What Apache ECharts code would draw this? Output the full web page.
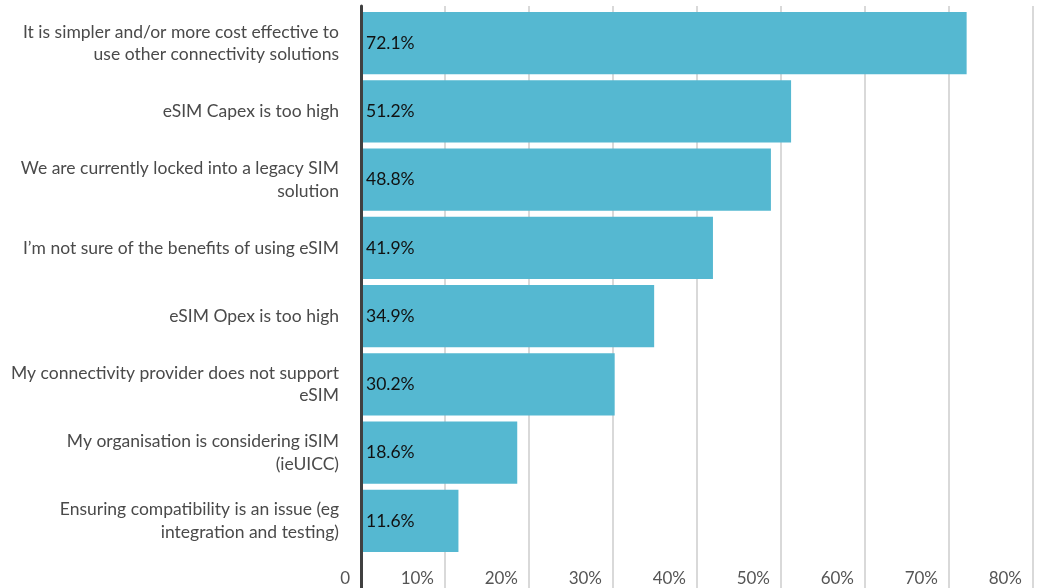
<!DOCTYPE html>
<html><head><meta charset="utf-8">
<script src="https://cdn.jsdelivr.net/npm/echarts@6/dist/echarts.min.js"></script>
<style>html,body{margin:0;padding:0;background:#fff}#c{width:1039px;height:588px}</style>
</head><body><div id="c"></div>
<script>
const categories = [
  "It is simpler and/or more cost effective to\nuse other connectivity solutions",
  "eSIM Capex is too high",
  "We are currently locked into a legacy SIM\nsolution",
  "I\u2019m not sure of the benefits of using eSIM",
  "eSIM Opex is too high",
  "My connectivity provider does not support\neSIM",
  "My organisation is considering iSIM\n(ieUICC)",
  "Ensuring compatibility is an issue (eg\nintegration and testing)"
];
const values = [72.1, 51.2, 48.8, 41.9, 34.9, 30.2, 18.6, 11.6];
const axisMax = 80;
const axisStep = 10;

const font = 'Lato, "Noto Sans", sans-serif';
const chart = echarts.init(document.getElementById('c'));
chart.setOption({
  animation: false,
  textStyle: {fontFamily: font},
  grid: [
    {left: 361, right: 6, top: 6, bottom: 0},
    {left: 361, right: 6, top: 9, height: 546}
  ],
  xAxis: [
    {gridIndex: 0, type: 'value', min: 0, max: axisMax, interval: axisStep,
     axisLine: {show: false}, axisTick: {show: false},
     splitLine: {show: true, lineStyle: {color: '#d9d9d9', width: 2}},
     axisLabel: {inside: true, margin: 1, align: 'right', padding: [0, 11, 0, 0],
       color: '#555', fontSize: 17, fontFamily: font,
       formatter: v => v === 0 ? '0' : v + '%'}},
    {gridIndex: 1, type: 'value', min: 0, max: axisMax, interval: axisStep, show: false}
  ],
  yAxis: [
    {gridIndex: 0, type: 'value', min: 0, max: 1, z: 5,
     axisLine: {show: true, lineStyle: {color: '#404040', width: 3}},
     axisTick: {show: false}, axisLabel: {show: false}, splitLine: {show: false}},
    {gridIndex: 1, type: 'category', inverse: true, data: categories,
     axisLine: {show: false}, axisTick: {show: false},
     axisLabel: {margin: 22, color: '#4a4a4a', fontSize: 17.5, lineHeight: 22.5, fontFamily: font, align: 'right'}}
  ],
  series: [{
    type: 'bar', xAxisIndex: 1, yAxisIndex: 1, data: values,
    barCategoryGap: '9%',
    itemStyle: {color: '#55B8D1'},
    label: {show: true, position: 'insideLeft', distance: 5, color: '#111', fontSize: 17.5, fontFamily: font,
      formatter: p => p.value.toFixed(1) + '%'}
  }]
});
</script></body></html>
